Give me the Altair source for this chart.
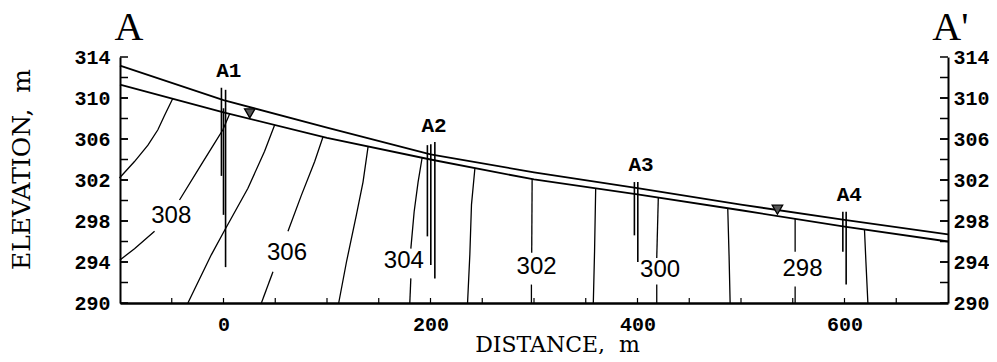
import altair as alt
import pandas as pd

# ---------------- data ----------------
surface_dist = [-100, 0, 100, 200, 300, 400, 500, 600, 700]
land_surface = [313.15, 309.8, 307.1, 304.5, 302.75, 301.2, 299.6, 298.1, 296.7]
water_table = [311.3, 308.6, 306.1, 304.0, 302.05, 300.6, 299.05, 297.45, 296.0]

# head contours (x, elevation), split where a label interrupts them
c_a = [(-100.5, 302.2), (-86, 303.8), (-73, 305.4), (-63.4, 306.9), (-57, 308.3), (-49, 309.95)]
c_308_low = [(-100, 294.2), (-86, 295.3), (-66.6, 297.0)]
c_308_up = [(-42.5, 300.05), (-21.5, 303.5), (-8.6, 305.6), (-0.6, 306.9), (5.9, 308.45)]
c_b = [(-34.4, 290), (-11.8, 294.7), (1.1, 297.1), (23.6, 301.2), (39.7, 304.8), (49.4, 307.37)]
c_306_low = [(36.6, 290), (47.8, 293.05)]
c_306_up = [(62.3, 297.0), (75.2, 300.5), (88.1, 303.8), (96.1, 306.2)]
c_c = [(111.3, 290), (118.8, 294.0), (128.4, 298.6), (134.8, 301.8), (139.7, 305.25)]
c_304_low = [(180, 290), (181, 292.4)]
c_304_up = [(181, 295.3), (184.2, 298.9), (188, 301.8), (191.9, 304.17)]
c_d = [(235.8, 290), (238, 294.7), (239.6, 299.6), (242.9, 303.15)]
c_302_low = [(297.5, 290), (297.5, 291.8)]
c_302_up = [(297.8, 294.9), (298.2, 302.1)]
c_e = [(357.3, 290), (358.5, 295), (359.6, 301.18)]
c_300_low = [(418.6, 290), (418.6, 291.8)]
c_300_up = [(418.6, 294.4), (420.1, 300.29)]
c_f = [(489.5, 290), (488.5, 294.5), (487.2, 299.25)]
c_298_low = [(552.3, 290), (552.3, 291.6)]
c_298_up = [(552.3, 295.0), (552.3, 298.22)]
c_g = [(622.6, 290), (620.7, 294.0), (619.3, 297.17)]

contour_segments = [c_a, c_308_low, c_308_up, c_b, c_306_low, c_306_up, c_c,
                    c_304_low, c_304_up, c_d, c_302_low, c_302_up, c_e,
                    c_300_low, c_300_up, c_f, c_298_low, c_298_up, c_g]

contour_label_text = ["308", "306", "304", "302", "300", "298"]
contour_label_x = [-50.5, 61.3, 174.2, 302.5, 421.8, 559.4]
contour_label_y = [298.5, 294.9, 294.1, 293.5, 293.2, 293.3]

# well screens / piezometers
well_x = [-2, 0, 2, 197, 200.3, 204.2, 397, 400.3, 598.4, 601.6]
well_top = [311.0, 309.0, 310.8, 305.4, 305.5, 305.7, 301.8, 301.8, 298.9, 298.9]
well_bottom = [302.4, 298.6, 293.5, 296.5, 293.7, 292.4, 296.6, 294.0, 295.0, 291.8]

well_names = ["A1", "A2", "A3", "A4"]
well_label_x = [5.2, 203.5, 403.4, 604.6]
well_label_y = [312.6, 307.3, 303.5, 300.5]

wt_symbol_x = [25.4, 535.2]
wt_symbol_y = [308.5, 299.1]

section_names = ["A", "A'"]
section_x = [-105.3, 684.8]
section_y = [315.66, 315.66]

x_label_values = [0, 200, 400, 600]
x_tick_values = list(range(-50, 700, 50))
y_label_values = [290, 294, 298, 302, 306, 310, 314]
y_tick_values = list(range(292, 314, 2))

# ---------------- frames ----------------
surface_df = pd.DataFrame({
    "x": surface_dist * 2,
    "y": land_surface + water_table,
    "line": ["land"] * len(surface_dist) + ["water"] * len(surface_dist),
    "i": list(range(len(surface_dist))) * 2,
})

rows = []
for s, seg in enumerate(contour_segments):
    for i, (xx, yy) in enumerate(seg):
        rows.append({"x": xx, "y": yy, "seg": s, "i": i})
contour_df = pd.DataFrame(rows)

clab_df = pd.DataFrame({"t": contour_label_text, "x": contour_label_x, "y": contour_label_y})
well_df = pd.DataFrame({"x": well_x, "y": well_top, "y2": well_bottom})
wlab_df = pd.DataFrame({"t": well_names, "x": well_label_x, "y": well_label_y})
wt_df = pd.DataFrame({"x": wt_symbol_x, "y": wt_symbol_y})
sec_df = pd.DataFrame({"t": section_names, "x": section_x, "y": section_y})
ytick_df = pd.DataFrame({"y": y_tick_values + y_label_values})
xtick_df = pd.DataFrame({"x": x_tick_values})

W, H = 828, 246
xs = alt.Scale(domain=[-100, 700], nice=False, zero=False)
ys = alt.Scale(domain=[290, 314], nice=False, zero=False)

MONO = "Liberation Mono"
SERIF = "DejaVu Serif"

x_axis = alt.Axis(values=x_label_values, ticks=False, grid=False, domainColor="black",
                  domainWidth=2.5, labelFont=MONO, labelFontSize=20, labelFontWeight="bold",
                  labelColor="black", labelPadding=11, labelFlush=False,
                  title="DISTANCE,\u00a0 m", titleFont=SERIF, titleFontSize=22,
                  titleFontWeight="normal", titleColor="black", titleX=437, titleY=41,
                  titleAlign="center", titleBaseline="middle")
y_axis_left = alt.Axis(orient="left", values=y_label_values, ticks=False, grid=False,
                       domainColor="black", domainWidth=2, labelFont=MONO, labelFontSize=20,
                       labelFontWeight="bold", labelColor="black", labelPadding=10,
                       labelFlush=False,
                       title="ELEVATION,\u00a0 m", titleFont=SERIF, titleFontSize=25,
                       titleFontWeight="normal", titleColor="black", titleAngle=270,
                       titleX=-99, titleY=112, titleAlign="center", titleBaseline="middle")
y_axis_right = alt.Axis(orient="right", values=y_label_values, ticks=False, grid=False,
                        domainColor="black", domainWidth=2, labelFont=MONO, labelFontSize=20,
                        labelFontWeight="bold", labelColor="black", labelPadding=5,
                        labelFlush=False, title=None)


def X(field="x"):
    return alt.X(field + ":Q", scale=xs, axis=x_axis)


surface = alt.Chart(surface_df).mark_line(color="black", strokeWidth=1.8).encode(
    x=X(),
    y=alt.Y("y:Q", scale=ys, axis=y_axis_left),
    detail="line:N",
    order="i:Q",
)

right_ticks = alt.Chart(ytick_df).mark_rule(color="black", strokeWidth=1.5).encode(
    y=alt.Y("y:Q", scale=ys, axis=y_axis_right),
    x=alt.value(W - 8),
    x2=alt.value(W),
)

left_ticks = alt.Chart(ytick_df).mark_rule(color="black", strokeWidth=1.5).encode(
    y=alt.Y("y:Q", scale=ys, axis=None),
    x=alt.value(0),
    x2=alt.value(8),
)

bottom_ticks = alt.Chart(xtick_df).mark_rule(color="black", strokeWidth=1.2).encode(
    x=X(),
    y=alt.value(H),
    y2=alt.value(H - 5),
)

contours = alt.Chart(contour_df).mark_line(color="black", strokeWidth=1.3).encode(
    x=X(),
    y=alt.Y("y:Q", scale=ys, axis=None),
    detail="seg:N",
    order="i:Q",
)

wells = alt.Chart(well_df).mark_rule(color="black", strokeWidth=1.6).encode(
    x=X(),
    y=alt.Y("y:Q", scale=ys, axis=None),
    y2="y2:Q",
)

wt_marks = alt.Chart(wt_df).mark_point(shape="triangle-down", filled=True, fill="#555555",
                                       stroke="black", strokeWidth=1.3, size=110,
                                       opacity=1).encode(
    x=X(),
    y=alt.Y("y:Q", scale=ys, axis=None),
)

well_labels = alt.Chart(wlab_df).mark_text(font=MONO, fontSize=21, fontWeight="bold",
                                           color="black", align="center",
                                           baseline="middle").encode(
    x=X(),
    y=alt.Y("y:Q", scale=ys, axis=None),
    text="t:N",
)

contour_labels = alt.Chart(clab_df).mark_text(font="Liberation Sans", fontSize=24,
                                              color="black", align="center",
                                              baseline="middle").encode(
    x=X(),
    y=alt.Y("y:Q", scale=ys, axis=None),
    text="t:N",
)

section_labels = alt.Chart(sec_df).mark_text(font="Liberation Serif", fontSize=40,
                                             color="black", align="left",
                                             baseline="alphabetic").encode(
    x=X(),
    y=alt.Y("y:Q", scale=ys, axis=None),
    text="t:N",
)

chart = alt.layer(
    surface, right_ticks, left_ticks, bottom_ticks, contours, wells, wt_marks,
    well_labels, contour_labels, section_labels,
).resolve_axis(y="independent").properties(
    width=W, height=H,
    autosize=alt.AutoSizeParams(type="none"),
    padding={"left": 112, "top": 49, "right": 41, "bottom": 51},
    background="white",
).configure_view(stroke=None)

chart.save("out.html", embed_options={"renderer": "svg", "actions": False})
